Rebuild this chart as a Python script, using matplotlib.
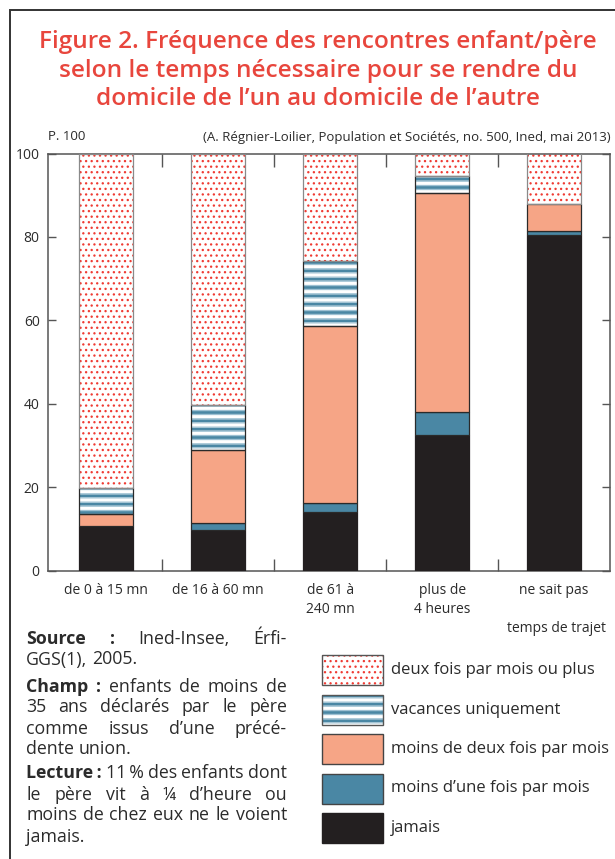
import matplotlib
matplotlib.use("Agg")
import matplotlib.pyplot as plt
from matplotlib.patches import Rectangle
import numpy as np

plt.rcParams['font.family'] = ['Open Sans', 'DejaVu Sans']
plt.rcParams['hatch.linewidth'] = 1.0

# données (en %)
categories = ["de 0 à 15 mn", "de 16 à 60 mn", "de 61 à\n240 mn", "plus de\n4 heures", "ne sait pas"]
jamais = [10.7, 9.8, 14.0, 32.5, 80.5]
moins_une_fois = [0.0, 1.5, 2.1, 5.4, 1.0]
moins_deux_fois = [2.8, 17.6, 42.6, 52.6, 6.5]
vacances = [6.2, 10.8, 15.6, 4.1, 0.0]
deux_fois_plus = [80.3, 60.3, 25.7, 5.4, 12.0]

series_labels = ["jamais", "moins d\u2019une fois par mois", "moins de deux fois par mois",
                 "vacances uniquement", "deux fois par mois ou plus"]
yticks = [0, 20, 40, 60, 80, 100]

W, H = 615, 859
RED = '#e8463d'
DOT_RED = '#ef3b33'
BLUE = '#4a87a4'
LIGHT_BLUE = '#9cc0d2'
SALMON = '#f6a586'
BLACK = '#231f20'
TXT = '#2b2b2b'

# hachures: liste de (motif, couleur, épaisseur) superposées
styles = [
    (BLACK, [], BLACK),
    (BLUE, [], '#2a2a2a'),
    (SALMON, [], '#2a2a2a'),
    ('white', [('----', LIGHT_BLUE, 0.8), ('--', BLUE, 2.0)], '#2a2a2a'),
    ('white', [('...', DOT_RED, 0.9)], '#8a8a8a'),
]


def fx(x):
    return x / W


def fy(y):
    return 1 - y / H


def hatched(draw, hatches, **kw):
    # une couche par motif, l'épaisseur de hachure est lue à la création
    for i, (pat, col, lw) in enumerate(hatches):
        with plt.rc_context({'hatch.linewidth': lw}):
            draw(hatch=pat, edgecolor=col, linewidth=0, fill=(i == 0), **kw)


fig = plt.figure(figsize=(W / 100, H / 100), dpi=100)

# cadre
fig.add_artist(Rectangle((fx(9.5), fy(870)), fx(700), fy(10) - fy(870), fill=False,
                         edgecolor='#333333', lw=1.4, transform=fig.transFigure))

# titre
title_lines = ["Figure 2. Fréquence des rencontres enfant/père",
               "selon le temps nécessaire pour se rendre du",
               "domicile de l\u2019un au domicile de l\u2019autre"]
for line, yc in zip(title_lines, [42, 71, 99]):
    fig.text(fx(318), fy(yc), line, ha='center', va='center', color=RED,
             fontsize=17.6, fontweight='semibold')

fig.text(fx(48), fy(137), "P. 100", ha='left', va='center', fontsize=9.5, color=TXT)
fig.text(fx(611), fy(137), "(A. Régnier-Loilier, Population et Sociétés, no. 500, Ined, mai 2013)",
         ha='right', va='center', fontsize=9.5, color=TXT)

ax = fig.add_axes([fx(48), fy(570.5), fx(610) - fx(48), fy(153.5) - fy(570.5)])
x = np.arange(len(categories))
width = 0.48
bottom = np.zeros(len(categories))
all_series = [jamais, moins_une_fois, moins_deux_fois, vacances, deux_fois_plus]
for vals, (fc, hatches, ec) in zip(all_series, styles):
    vals = np.array(vals)
    keep = vals > 0
    if hatches:
        def draw(**kw):
            ax.bar(x[keep], vals[keep], width, bottom=bottom[keep], zorder=2, **kw)
        hatched(draw, hatches, color=fc)
        ax.bar(x[keep], vals[keep], width, bottom=bottom[keep], fill=False,
               edgecolor=ec, linewidth=0.9, zorder=3)
    else:
        ax.bar(x[keep], vals[keep], width, bottom=bottom[keep], color=fc,
               edgecolor=ec, linewidth=0.9, zorder=3)
    bottom += vals

ax.set_xlim(-0.52, 4.50)
ax.set_ylim(0, 100)
ax.set_yticks(yticks)
ax.tick_params(axis='y', direction='in', length=6, width=1, color='#555555',
               labelsize=10, labelcolor=TXT, right=True, pad=6)
ax.set_xticks(x)
ax.set_xticklabels(categories, fontsize=10, color=TXT, linespacing=1.35)
ax.tick_params(axis='x', which='major', length=0, pad=9)
ax.set_xticks(x[:-1] + 0.5, minor=True)
ax.tick_params(axis='x', which='minor', direction='in', length=9, width=1,
               color='#555555', top=True)
for s in ax.spines.values():
    s.set_color('#555555')
    s.set_linewidth(1.1)

fig.text(fx(606), fy(629), "temps de trajet", ha='right', va='center', fontsize=10, color=TXT)

# note en bas à gauche, texte justifié
renderer = fig.canvas.get_renderer()
note = [
    ([("Source", True), (":", True), ("Ined-Insee,", False), ("Érfi-", False)], True, 638),
    ([("GGS(1),", False), ("2005.", False)], False, 659),
    ([("Champ", True), (":", True), ("enfants", False), ("de", False), ("moins", False), ("de", False)], True, 686),
    ([("35", False), ("ans", False), ("déclarés", False), ("par", False), ("le", False), ("père", False)], True, 706),
    ([("comme", False), ("issus", False), ("d\u2019une", False), ("précé-", False)], True, 728),
    ([("dente", False), ("union.", False)], False, 748),
    ([("Lecture\u2009:", True), ("11\u2009%", False), ("des", False), ("enfants", False), ("dont", False)], True, 773),
    ([("le", False), ("père", False), ("vit", False), ("à", False), ("¼", False), ("d\u2019heure", False), ("ou", False)], True, 794),
    ([("moins", False), ("de", False), ("chez", False), ("eux", False), ("ne", False), ("le", False), ("voient", False)], True, 815),
    ([("jamais.", False)], False, 837),
]
x0, x1 = 26, 287
for words, justify, yc in note:
    texts = []
    for w, bold in words:
        t = fig.text(fx(x0), fy(yc + 5.5), w, ha='left', va='baseline', fontsize=12.8,
                     color=TXT, fontweight='bold' if bold else 'normal')
        texts.append(t)
    widths = [t.get_window_extent(renderer).width for t in texts]
    if justify and len(texts) > 1:
        gap = (x1 - x0 - sum(widths)) / (len(texts) - 1)
    else:
        gap = 4.5
    xp = x0
    for t, wd in zip(texts, widths):
        t.set_x(fx(xp))
        xp += wd + gap

# légende
leg_order = [4, 3, 2, 1, 0]
for i, k in enumerate(leg_order):
    fc, hatches, ec = styles[k]
    top = 655 + i * 39.5
    xy = (fx(322), fy(top + 30))
    rw, rh = fx(383) - fx(322), fy(top) - fy(top + 30)
    if hatches:
        def draw(**kw):
            fig.add_artist(Rectangle(xy, rw, rh, transform=fig.transFigure, **kw))
        hatched(draw, hatches, facecolor=fc)
        fig.add_artist(Rectangle(xy, rw, rh, fill=False, edgecolor='#555555', lw=1,
                                 transform=fig.transFigure))
    else:
        fig.add_artist(Rectangle(xy, rw, rh, facecolor=fc,
                                 edgecolor='#444444' if k else BLACK, lw=1,
                                 transform=fig.transFigure))
    fig.text(fx(391), fy(top + 15), series_labels[k], ha='left', va='center',
             fontsize=12, color=TXT)

fig.savefig("out.png", dpi=100)
